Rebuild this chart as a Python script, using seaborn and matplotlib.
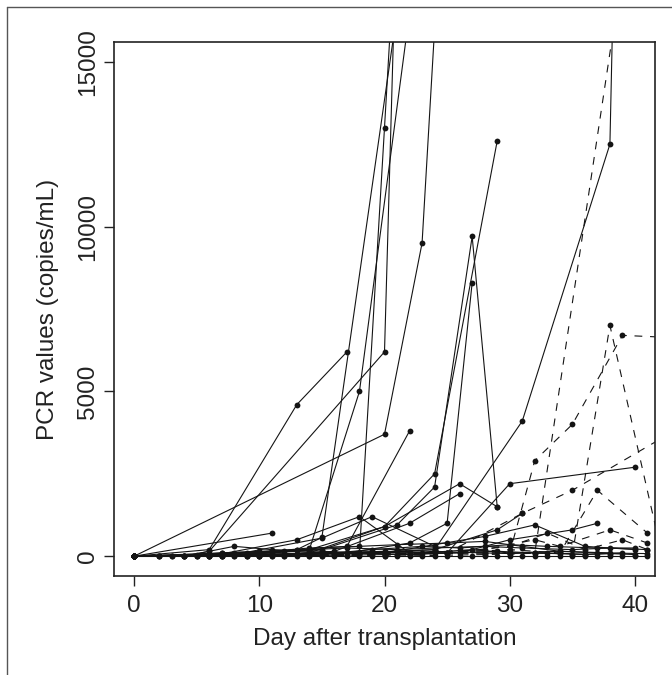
import matplotlib
matplotlib.use("Agg")
import matplotlib.pyplot as plt
import seaborn as sns
import pandas as pd
from matplotlib.lines import Line2D

sns.set_style("ticks")
plt.rcParams["font.family"] = ["Liberation Sans", "DejaVu Sans"]

# ---------------- data (day after transplantation, PCR copies/mL) ----------------
# solid lines
p01_day = [0, 6, 13, 17]
p01_pcr = [0, 200, 4600, 6200]
p02_day = [0, 4, 6, 20, 21]
p02_pcr = [0, 0, 150, 6200, 19600]
p03_day = [0, 20, 23, 24]
p03_pcr = [0, 3700, 9500, 16000]
p04_day = [0, 5, 8, 11, 14, 18, 22]
p04_pcr = [0, 0, 50, 100, 200, 5000, 16500]
p05_day = [0, 2, 7, 12, 16, 18, 20, 21]
p05_pcr = [0, 0, 0, 50, 100, 100, 13000, 19500]
p06_day = [0, 4, 9, 13, 15, 21]
p06_pcr = [0, 0, 50, 200, 570, 16500]
p07_day = [0, 5, 10, 13, 17, 22]
p07_pcr = [0, 0, 100, 200, 300, 3800]
p08_day = [0, 7, 14, 20, 24, 29]
p08_pcr = [0, 0, 100, 900, 2500, 12600]
p09_day = [0, 9, 15, 21, 24, 27, 29]
p09_pcr = [0, 50, 200, 950, 2100, 9700, 1500]
p10_day = [0, 8, 14, 20, 26, 29]
p10_pcr = [0, 100, 200, 900, 2200, 1500]
p11_day = [0, 10, 16, 22, 26]
p11_pcr = [0, 0, 150, 1000, 1900]
p12_day = [0, 6, 12, 18, 24, 31, 38, 39]
p12_pcr = [0, 0, 50, 100, 200, 4100, 12500, 30000]
p13_day = [0, 7, 14, 21, 25, 30, 40]
p13_pcr = [0, 0, 100, 150, 100, 2200, 2700]
p14_day = [0, 11]
p14_pcr = [0, 700]
p15_day = [0, 6, 13, 18, 22]
p15_pcr = [0, 0, 500, 1200, 100]
p16_day = [0, 8, 15, 19, 24]
p16_pcr = [0, 50, 550, 1200, 300]
p17_day = [0, 10, 20, 26, 30, 35, 37]
p17_pcr = [0, 0, 50, 100, 500, 800, 1000]
p18_day = [0, 9, 18, 24, 29, 31]
p18_pcr = [0, 0, 100, 200, 800, 1300]
p19_day = [0, 12, 20, 28, 32, 36, 40]
p19_pcr = [0, 50, 100, 600, 950, 300, 200]
p20_day = [0, 11, 17, 22, 25, 27]
p20_pcr = [0, 0, 100, 400, 1000, 8300]
b01_day = [0, 2, 3, 4, 5, 6, 7, 8, 9, 10, 11, 12, 13, 14, 15, 16, 17, 18, 19, 20, 21,
           22, 23, 24, 25, 26, 27, 28, 29, 30, 31, 32, 33, 34, 35, 36, 37, 38, 39, 40, 41]
b01_pcr = [0, 0, 0, 0, 0, 0, 0, 0, 0, 0, 0, 0, 0, 0, 0, 0, 0, 0, 0, 0, 0,
           0, 0, 0, 0, 0, 0, 0, 0, 0, 0, 0, 0, 0, 0, 0, 0, 0, 0, 0, 0]
b02_day = [0, 2, 4, 6, 8, 10, 12, 14, 16, 18, 20, 22, 24, 26, 28, 30, 32, 34, 36, 38, 40]
b02_pcr = [0, 0, 20, 40, 50, 60, 50, 80, 100, 90, 120, 100, 150, 120, 100, 80, 100, 90, 60, 80, 50]
b03_day = [0, 3, 7, 10, 14, 17, 21, 24, 28, 31, 35, 38, 41]
b03_pcr = [0, 0, 100, 150, 200, 250, 200, 250, 300, 250, 200, 250, 200]
b04_day = [0, 5, 9, 12, 16, 19, 23, 26, 30, 33, 37, 40]
b04_pcr = [0, 50, 100, 150, 100, 200, 300, 250, 350, 300, 250, 250]
b05_day = [0, 4, 8, 11, 15, 18, 22, 25, 29, 32, 36, 39]
b05_pcr = [0, 0, 300, 200, 150, 100, 50, 100, 150, 100, 50, 100]
b06_day = [0, 6, 9, 13, 16, 20, 23, 27, 30, 34, 37, 41]
b06_pcr = [0, 20, 50, 80, 100, 150, 100, 200, 100, 150, 100, 80]
b07_day = [0, 7, 11, 14, 18, 21, 25, 28, 31, 34, 38]
b07_pcr = [0, 100, 150, 250, 300, 350, 400, 450, 300, 150, 100]
# dashed lines
q01_day = [0, 6, 14, 21, 28, 32, 39]
q01_pcr = [0, 0, 0, 50, 100, 100, 17800]
q02_day = [0, 8, 16, 24, 30, 32, 35, 39, 42]
q02_pcr = [0, 0, 50, 100, 100, 2900, 4000, 6700, 6650]
q03_day = [0, 10, 20, 28, 33, 35, 38, 42]
q03_pcr = [0, 0, 0, 50, 100, 50, 7000, 300]
q04_day = [0, 9, 18, 25, 31, 35, 42]
q04_pcr = [0, 0, 50, 100, 1300, 2000, 3550]
q05_day = [0, 12, 22, 30, 34, 37, 41, 42]
q05_pcr = [0, 0, 50, 200, 100, 2000, 700, 700]
q06_day = [0, 15, 25, 30, 33, 36, 39, 41]
q06_pcr = [0, 0, 100, 300, 700, 200, 500, 200]
q07_day = [0, 20, 28, 32, 34, 38, 41]
q07_pcr = [0, 50, 200, 500, 300, 800, 400]

x_ticks = [0, 10, 20, 30, 40]
y_ticks = [0, 5000, 10000, 15000]
x_label = "Day after transplantation"
y_label = "PCR values (copies/mL)"

series = [
    ("p01", p01_day, p01_pcr, "solid"), ("p02", p02_day, p02_pcr, "solid"),
    ("p03", p03_day, p03_pcr, "solid"), ("p04", p04_day, p04_pcr, "solid"),
    ("p05", p05_day, p05_pcr, "solid"), ("p06", p06_day, p06_pcr, "solid"),
    ("p07", p07_day, p07_pcr, "solid"), ("p08", p08_day, p08_pcr, "solid"),
    ("p09", p09_day, p09_pcr, "solid"), ("p10", p10_day, p10_pcr, "solid"),
    ("p11", p11_day, p11_pcr, "solid"), ("p12", p12_day, p12_pcr, "solid"),
    ("p13", p13_day, p13_pcr, "solid"), ("p14", p14_day, p14_pcr, "solid"),
    ("p15", p15_day, p15_pcr, "solid"), ("p16", p16_day, p16_pcr, "solid"),
    ("p17", p17_day, p17_pcr, "solid"), ("p18", p18_day, p18_pcr, "solid"),
    ("p19", p19_day, p19_pcr, "solid"), ("p20", p20_day, p20_pcr, "solid"),
    ("b01", b01_day, b01_pcr, "solid"), ("b02", b02_day, b02_pcr, "solid"),
    ("b03", b03_day, b03_pcr, "solid"), ("b04", b04_day, b04_pcr, "solid"),
    ("b05", b05_day, b05_pcr, "solid"), ("b06", b06_day, b06_pcr, "solid"),
    ("b07", b07_day, b07_pcr, "solid"),
    ("q01", q01_day, q01_pcr, "dashed"), ("q02", q02_day, q02_pcr, "dashed"),
    ("q03", q03_day, q03_pcr, "dashed"), ("q04", q04_day, q04_pcr, "dashed"),
    ("q05", q05_day, q05_pcr, "dashed"), ("q06", q06_day, q06_pcr, "dashed"),
    ("q07", q07_day, q07_pcr, "dashed"),
]

rows = []
for pid, days, vals, grp in series:
    for d, v in zip(days, vals):
        rows.append({"patient": pid, "day": d, "pcr": v, "group": grp})
df = pd.DataFrame(rows)

# ---------------- figure ----------------
W, H = 672, 675
fig = plt.figure(figsize=(W / 100, H / 100), dpi=100)
ax = fig.add_axes([114 / W, 1 - 576 / H, (655 - 114) / W, (576 - 42) / H])

ink = "#141414"
for pid, sub in df.groupby("patient", sort=False):
    ls = "-" if sub["group"].iloc[0] == "solid" else (0, (7, 7))
    sns.lineplot(data=sub, x="day", y="pcr", ax=ax, color=ink, linewidth=0.8,
                 linestyle=ls, marker="o", markersize=4.2, markeredgewidth=0,
                 estimator=None, sort=False, legend=False)

ax.set_xlim(-1.6, 41.6)
ax.set_ylim(-600, 15600)
ax.set_xticks(x_ticks)
ax.set_xticklabels([str(t) for t in x_ticks])
ax.set_yticks(y_ticks)
ax.set_yticklabels([str(t) for t in y_ticks], rotation=90, va="center")
ax.tick_params(axis="both", length=7.5, width=1.0, color="#222222",
               labelsize=17.5, labelcolor="#222222", direction="out")
ax.tick_params(axis="x", pad=6)
ax.tick_params(axis="y", pad=3)
for s in ax.spines.values():
    s.set_visible(True)
    s.set_linewidth(1.2)
    s.set_color("#222222")

ax.set_xlabel(x_label, fontsize=17.5, color="#222222", va="center")
ax.set_ylabel(y_label, fontsize=17.5, color="#222222", va="center")
ax.xaxis.set_label_coords(0.5, (576 - 639) / (576 - 42))
ax.yaxis.set_label_coords((48 - 114) / (655 - 114), 0.5)

# outer frame (left and top edges visible in the reference)
fig.add_artist(Line2D([7 / W, 7 / W], [0, 1 - 7 / H], transform=fig.transFigure,
                      color="#555555", lw=1.0))
fig.add_artist(Line2D([7 / W, 1], [1 - 7 / H, 1 - 7 / H], transform=fig.transFigure,
                      color="#555555", lw=1.0))

fig.savefig("out.png", dpi=100)
